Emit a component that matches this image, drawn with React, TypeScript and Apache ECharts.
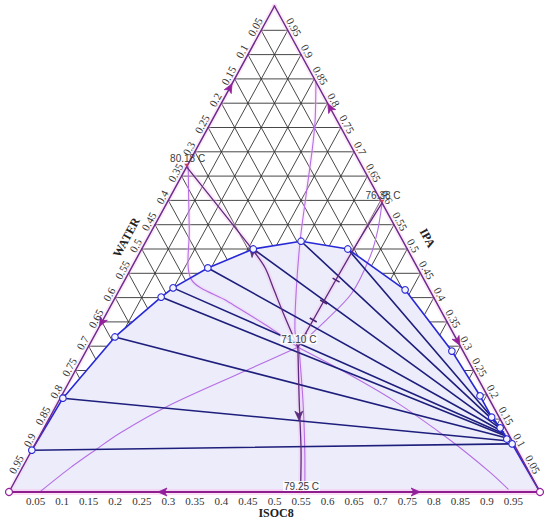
import React, { useEffect, useRef } from "react";
import * as echarts from "echarts";

// Compositions are [ISOC8, IPA] mole fractions; WATER = 1 - ISOC8 - IPA
type Comp = [number, number];

const tickValues = [0.05, 0.1, 0.15, 0.2, 0.25, 0.3, 0.35, 0.4, 0.45, 0.5, 0.55, 0.6, 0.65, 0.7, 0.75, 0.8, 0.85, 0.9, 0.95];
const axisNames = ["ISOC8", "WATER", "IPA"];

const azeoLabels = ["80.18 C", "76.38 C", "71.10 C", "79.25 C"];
const azeoComps: Comp[] = [[0, 0.669], [0.405, 0.595], [0.395, 0.298], [0.549, 0]];

// liquid-liquid envelope (binodal)
const binodal: Comp[] = [
  [0, 0], [0, 0.086], [0.005, 0.193], [0.04, 0.319], [0.086, 0.401], [0.099, 0.42], [0.144, 0.461],
  [0.21, 0.5], [0.292, 0.516], [0.388, 0.5], [0.538, 0.416], [0.689, 0.29], [0.788, 0.198],
  [0.832, 0.154], [0.859, 0.132], [0.883, 0.109], [0.898, 0.099], [1, 0],
];

// tie lines
const tieLeft: Comp[] = [
  [0, 0.086], [0.005, 0.193], [0.04, 0.319], [0.086, 0.401], [0.099, 0.42], [0.144, 0.461], [0.21, 0.5], [0.292, 0.516], [0.388, 0.5],
];
const tieRight: Comp[] = [
  [0.898, 0.099], [0.889, 0.105], [0.882, 0.111], [0.878, 0.115], [0.874, 0.119], [0.87, 0.123], [0.865, 0.128], [0.858, 0.134], [0.845, 0.144],
];

// distillation boundaries
const boundaryA: Comp[] = [[0, 0.669], [0.21, 0.498], [0.252, 0.461], [0.291, 0.416], [0.336, 0.364], [0.395, 0.298]];
const boundaryB: Comp[] = [[0.405, 0.595], [0.399, 0.498], [0.395, 0.298]];
const boundaryC: Comp[] = [[0.395, 0.298], [0.452, 0.189], [0.507, 0.086], [0.549, 0]];

// residue curves
const residue1: Comp[] = [[0.003, 0.669], [0.07, 0.539], [0.124, 0.438], [0.214, 0.393], [0.315, 0.342], [0.395, 0.298]];
const residue2: Comp[] = [[0.058, 0], [0.09, 0.049], [0.119, 0.086], [0.148, 0.121], [0.211, 0.177], [0.32, 0.249], [0.395, 0.298]];
const residue3: Comp[] = [[0.405, 0.595], [0.425, 0.539], [0.438, 0.484], [0.441, 0.409], [0.418, 0.348], [0.401, 0.313], [0.395, 0.298]];
const residue4: Comp[] = [[0.156, 0.844], [0.194, 0.765], [0.219, 0.704], [0.254, 0.611], [0.289, 0.519], [0.333, 0.416], [0.372, 0.333], [0.395, 0.298]];
const residue5: Comp[] = [[0.395, 0.298], [0.509, 0.247], [0.629, 0.189], [0.777, 0.107], [0.885, 0.041], [0.937, 0.006]];
const residue6: Comp[] = [[0.397, 0.298], [0.459, 0.189], [0.514, 0.086], [0.557, 0]];

// arrows
const edgeArrowAt: Comp[] = [[0.29, 0], [0.765, 0], [0, 0.831], [0, 0.35], [0.21, 0.79], [0.689, 0.311]];
const edgeArrowTo: Comp[] = [[0, 0], [1, 0], [0, 1], [0, 0], [0, 1], [1, 0]];
const curveArrowAt: Comp[] = [[0.212, 0.494], [0.467, 0.158], [0.396, 0.318]];
const curveArrowTo: Comp[] = [[0, 0.669], [0.549, 0], [0.405, 0.595]];
const crossMarks: Comp[] = [[0.398, 0.436], [0.397, 0.391], [0.396, 0.354]];

const SERIF = '"Liberation Serif", "Times New Roman", serif';
const SANS = '"Liberation Sans", Arial, sans-serif';

function renderItem(_params: any, api: any) {
  const P = (c: number[]) => api.coord([c[0] + c[1] / 2, c[1]]);
  const ch: any[] = [];
  const poly = (pts: number[][], stroke: string, w: number, smooth = 0) =>
    ch.push({
      type: "polyline",
      silent: true,
      shape: { points: pts.map(P), smooth },
      style: { stroke, lineWidth: w, fill: "none", lineJoin: "round", lineCap: "round" },
    });
  const A = P([0, 0]);
  const T = P([0, 1]);
  const ang = Math.atan2(A[1] - T[1], T[0] - A[0]);
  const sn = Math.sin(ang);
  const cs = Math.cos(ang);

  // grid
  tickValues.forEach((v) => {
    poly([[0, v], [1 - v, v]], "#333333", 0.9);
    poly([[0, 1 - v], [1 - v, 0]], "#333333", 0.9);
    poly([[v, 0], [v, 1 - v]], "#333333", 0.9);
  });

  // envelope fill
  ch.push({
    type: "polygon",
    silent: true,
    shape: { points: binodal.map(P) },
    style: { fill: "#ececfa", stroke: "none" },
  });

  // pink glow
  const glow = "rgba(248,190,238,0.45)";
  poly([[0, 0], [1, 0]], glow, 6);
  poly([[0, 0], [0, 1]], "rgba(248,190,238,0.3)", 5);
  poly([[1, 0], [0, 1]], "rgba(248,190,238,0.3)", 5);
  [boundaryA, boundaryB, boundaryC].forEach((b) => poly(b, "rgba(248,190,238,0.35)", 5, 0.3));
  [residue1, residue4, residue6].forEach((r) => poly(r, "rgba(248,190,238,0.25)", 4, 0.3));

  // residue curves
  const rc = "#b56ee6";
  [residue1, residue2, residue3, residue4, residue5, residue6].forEach((r) => poly(r, rc, 1.1, 0.3));

  // tie lines
  tieLeft.forEach((l, i) => poly([l, tieRight[i]], "#1e1e7c", 1.6));

  // binodal curve
  poly(binodal.slice(1), "#2828d6", 1.6);

  // boundaries
  [boundaryA, boundaryB, boundaryC].forEach((b) => poly(b, "#5c2c7e", 1.3, 0.3));

  // triangle edges
  poly([[0, 0], [0, 1]], "#6c2c8c", 1.5);
  poly([[1, 0], [0, 1]], "#6c2c8c", 1.5);
  poly([[0, 0], [1, 0]], "#8e1e8e", 2.2);

  // arrows
  const arrow = (at: number[], to: number[], color: string, size = 1) => {
    const p = P(at);
    const q = P(to);
    let dx = q[0] - p[0];
    let dy = q[1] - p[1];
    const len = Math.hypot(dx, dy) || 1;
    dx /= len;
    dy /= len;
    const nx = -dy;
    const ny = dx;
    const tip = [p[0] + dx * 5 * size, p[1] + dy * 5 * size];
    const b = [p[0] - dx * 4 * size, p[1] - dy * 4 * size];
    const m = [p[0] - dx * 1.5 * size, p[1] - dy * 1.5 * size];
    ch.push({
      type: "polygon",
      silent: true,
      shape: { points: [tip, [b[0] + nx * 4 * size, b[1] + ny * 4 * size], m, [b[0] - nx * 4 * size, b[1] - ny * 4 * size]] },
      style: { fill: color, stroke: color, lineWidth: 0.8 },
    });
  };
  edgeArrowAt.forEach((a, i) => arrow(a, edgeArrowTo[i], "#93209a"));
  curveArrowAt.forEach((a, i) => arrow(a, curveArrowTo[i], "#5c2c7e"));

  // cross marks on boundary B
  const bp = P(boundaryB[1]);
  const bq = P(boundaryB[2]);
  let ux = bq[0] - bp[0];
  let uy = bq[1] - bp[1];
  const ul = Math.hypot(ux, uy);
  ux /= ul;
  uy /= ul;
  crossMarks.forEach((c) => {
    const p = P(c);
    ch.push({
      type: "line",
      silent: true,
      shape: { x1: p[0] - uy * 4, y1: p[1] + ux * 4, x2: p[0] + uy * 4, y2: p[1] - ux * 4 },
      style: { stroke: "#4a2470", lineWidth: 1.6 },
    });
  });

  // binodal circles
  binodal.slice(1, -1).forEach((c) => {
    const p = P(c);
    ch.push({
      type: "circle",
      silent: true,
      shape: { cx: p[0], cy: p[1], r: 3.3 },
      style: { fill: "#f4f4ff", stroke: "#2828d6", lineWidth: 1.1 },
    });
  });

  // vertex circles
  [[0, 0], [1, 0]].forEach((c) => {
    const p = P(c);
    ch.push({
      type: "circle",
      silent: true,
      shape: { cx: p[0], cy: p[1], r: 3.5 },
      style: { fill: "#fff", stroke: "#93209a", lineWidth: 1.2 },
    });
  });

  // azeotrope markers
  azeoComps.forEach((c, i) => {
    const p = P(c);
    if (i === 2) return;
    ch.push({
      type: "polygon",
      silent: true,
      shape: { points: [[p[0] - 2.5, p[1] - 3], [p[0] + 2.5, p[1] - 3], [p[0], p[1]]] },
      style: { fill: "#c8405a", stroke: "none" },
    });
  });

  // tick labels
  const tickStyle = { fill: "#333333", fontSize: 11, fontFamily: SERIF, align: "center", verticalAlign: "middle" };
  tickValues.forEach((v) => {
    const txt = String(v);
    const pb = P([v, 0]);
    ch.push({ type: "text", silent: true, x: pb[0], y: pb[1] + 9, style: { ...tickStyle, text: txt } });
    const pl = P([0, 1 - v]);
    ch.push({ type: "text", silent: true, x: pl[0] - sn * 7, y: pl[1] - cs * 7, rotation: ang, style: { ...tickStyle, text: txt } });
    const pr = P([1 - v, v]);
    ch.push({ type: "text", silent: true, x: pr[0] + sn * 7, y: pr[1] - cs * 7, rotation: -ang, style: { ...tickStyle, text: txt } });
  });

  // axis titles
  const titleStyle = { fill: "#222222", fontSize: 12, fontWeight: "bold", fontFamily: SERIF, align: "center", verticalAlign: "middle" };
  const pI = P([0.503, 0]);
  ch.push({ type: "text", silent: true, x: pI[0], y: pI[1] + 21, style: { ...titleStyle, text: axisNames[0] } });
  const pW = P([0, 0.505]);
  ch.push({ type: "text", silent: true, x: pW[0] - sn * 19, y: pW[1] - cs * 19, rotation: ang, style: { ...titleStyle, text: axisNames[1] } });
  const pA = P([0.5, 0.5]);
  ch.push({ type: "text", silent: true, x: pA[0] + sn * 23, y: pA[1] - cs * 23, rotation: -ang, style: { ...titleStyle, text: axisNames[2] } });

  // azeotrope labels
  const labelOffsets = [-8, -7, -8, -6];
  azeoComps.forEach((c, i) => {
    const p = P(c);
    ch.push({
      type: "text",
      silent: true,
      x: p[0] + 1,
      y: p[1] + labelOffsets[i],
      style: {
        text: azeoLabels[i],
        fill: "#3a3a3a",
        fontSize: 10,
        fontFamily: SANS,
        align: "center",
        verticalAlign: "middle",
        backgroundColor: i >= 2 ? "rgba(255,255,255,0.85)" : "transparent",
        padding: [0, 1],
      },
    });
  });

  return { type: "group", children: ch };
}

export default function App() {
  const ref = useRef<HTMLDivElement>(null);
  useEffect(() => {
    document.body.style.margin = "0";
    if (!ref.current) return;
    const chart = echarts.init(ref.current, null, { renderer: "svg" });
    chart.setOption({
      animation: false,
      backgroundColor: "#ffffff",
      grid: { left: 9, right: 10, top: 6, bottom: 31 },
      xAxis: { type: "value", min: 0, max: 1, show: false },
      yAxis: { type: "value", min: 0, max: 1, show: false },
      series: [
        {
          type: "custom",
          coordinateSystem: "cartesian2d",
          data: [[0, 0]],
          renderItem,
          clip: false,
          silent: true,
        },
      ],
    });
    return () => chart.dispose();
  }, []);
  return <div ref={ref} style={{ width: 550, height: 523 }} />;
}
